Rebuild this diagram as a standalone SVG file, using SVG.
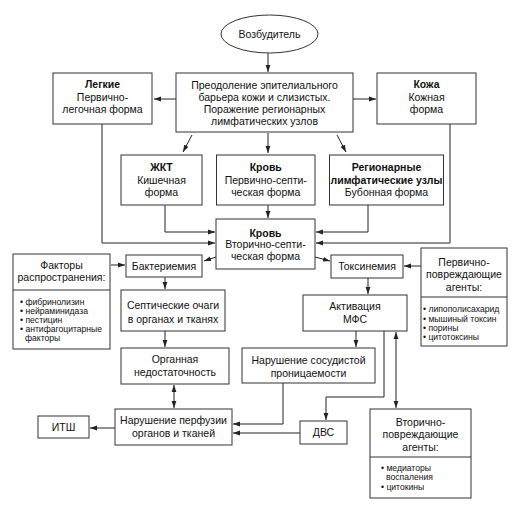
<svg xmlns="http://www.w3.org/2000/svg" width="531" height="506" viewBox="0 0 531 506">
<defs>
<marker id="ah" markerWidth="8" markerHeight="6" refX="7" refY="3" orient="auto" markerUnits="userSpaceOnUse">
<path d="M0,0.6 L7,3 L0,5.4 Z" fill="#222"/>
</marker>
<marker id="as" markerWidth="8" markerHeight="6" refX="0" refY="3" orient="auto" markerUnits="userSpaceOnUse">
<path d="M7,0.6 L0,3 L7,5.4 Z" fill="#222"/>
</marker>
</defs>
<style>
rect,ellipse{fill:#fff;stroke:#333;stroke-width:1}
.c path,.c line{fill:none;stroke:#222;stroke-width:1}
text{font-family:"Liberation Sans",Arial,sans-serif;font-size:10.5px;fill:#111;text-anchor:middle}
.b{font-weight:bold}
.s{font-size:8.6px;text-anchor:start}
</style>
<rect x="0" y="0" width="531" height="506" style="fill:#fff;stroke:none"/>
<g class="c">
<line x1="268" y1="53" x2="268" y2="72" marker-end="url(#ah)"/>
<line x1="176" y1="99" x2="154" y2="99" marker-end="url(#ah)"/>
<line x1="353" y1="99" x2="376" y2="99" marker-end="url(#ah)"/>
<line x1="192" y1="135" x2="183" y2="152" marker-end="url(#ah)"/>
<line x1="268" y1="133" x2="268" y2="153" marker-end="url(#ah)"/>
<line x1="337" y1="135" x2="346" y2="152" marker-end="url(#ah)"/>
<line x1="268" y1="205" x2="268" y2="218" marker-end="url(#ah)"/>
<path d="M165,205 V232 H215" marker-end="url(#ah)"/>
<path d="M368,205 V232 H316" marker-end="url(#ah)"/>
<path d="M102,124 V243 H215" marker-end="url(#ah)"/>
<path d="M450,124 V243 H316" marker-end="url(#ah)"/>
<line x1="216" y1="257" x2="204" y2="261" marker-end="url(#ah)"/>
<line x1="315" y1="257" x2="330" y2="261" marker-end="url(#ah)"/>
<line x1="111" y1="265" x2="125" y2="265" marker-end="url(#ah)"/>
<line x1="421" y1="266" x2="404" y2="266" marker-end="url(#ah)"/>
<line x1="165" y1="277" x2="165" y2="289" marker-end="url(#ah)"/>
<line x1="165" y1="331" x2="165" y2="347" marker-end="url(#ah)"/>
<line x1="174" y1="385" x2="174" y2="408" marker-start="url(#as)" marker-end="url(#ah)"/>
<line x1="368" y1="278" x2="368" y2="294" marker-end="url(#ah)"/>
<line x1="356" y1="331" x2="356" y2="347" marker-end="url(#ah)"/>
<path d="M384,331 V397 H326 V420" marker-end="url(#ah)"/>
<line x1="396" y1="332" x2="396" y2="408" marker-start="url(#as)" marker-end="url(#ah)"/>
<path d="M283,383 V424 H233" marker-end="url(#ah)"/>
<line x1="300" y1="433" x2="233" y2="433" marker-end="url(#ah)"/>
<line x1="115" y1="428" x2="90" y2="428" marker-end="url(#ah)"/>
</g>
<g id="vozbuditel">
<ellipse cx="269.5" cy="34" rx="48.5" ry="19"/>
<text x="269.5" y="38">Возбудитель</text>
</g>
<g id="preodolenie">
<rect x="176" y="73" width="177" height="59"/>
<text x="264.5" y="89">Преодоление эпителиального</text>
<text x="264.5" y="101">барьера кожи и слизистых.</text>
<text x="264.5" y="113">Поражение регионарных</text>
<text x="264.5" y="125">лимфатических узлов</text>
</g>
<g id="legkie">
<rect x="53" y="73" width="99" height="51"/>
<text x="102.5" y="88" class="b">Легкие</text>
<text x="102.5" y="101">Первично-</text>
<text x="102.5" y="113">легочная форма</text>
</g>
<g id="kozha">
<rect x="377" y="73" width="99" height="51"/>
<text x="426.5" y="88" class="b">Кожа</text>
<text x="426.5" y="101">Кожная</text>
<text x="426.5" y="113">форма</text>
</g>
<g id="zhkt">
<rect x="121" y="155" width="81" height="50"/>
<text x="161.5" y="171" class="b">ЖКТ</text>
<text x="161.5" y="184">Кишечная</text>
<text x="161.5" y="196">форма</text>
</g>
<g id="krov1">
<rect x="216.5" y="155" width="98.5" height="50"/>
<text x="265.75" y="171" class="b">Кровь</text>
<text x="265.75" y="184">Первично-септи-</text>
<text x="265.75" y="196">ческая форма</text>
</g>
<g id="regional">
<rect x="329.5" y="155" width="114" height="50"/>
<text x="386.5" y="171" class="b">Регионарные</text>
<text x="386.5" y="184" class="b">лимфатические узлы</text>
<text x="386.5" y="196">Бубонная форма</text>
</g>
<g id="krov2">
<rect x="216" y="219" width="99" height="50"/>
<text x="265.5" y="237" class="b">Кровь</text>
<text x="265.5" y="248">Вторично-септи-</text>
<text x="265.5" y="260">ческая форма</text>
</g>
<g id="faktory">
<rect x="13" y="254" width="97" height="95"/>
<line x1="13" y1="290" x2="110" y2="290" style="stroke:#333"/>
<text x="61.5" y="269">Факторы</text>
<text x="61.5" y="281">распространения:</text>
<text x="20" y="305" class="s">• фибринолизин</text>
<text x="20" y="314" class="s">• нейраминидаза</text>
<text x="20" y="323" class="s">• пестицин</text>
<text x="20" y="332" class="s">• антифагоцитарные</text>
<text x="25" y="341" class="s">факторы</text>
</g>
<g id="bakteriemia">
<rect x="126" y="255" width="76" height="22"/>
<text x="164" y="270">Бактериемия</text>
</g>
<g id="septic">
<rect x="121" y="290" width="104" height="41"/>
<text x="173" y="309">Септические очаги</text>
<text x="173" y="323">в органах и тканях</text>
</g>
<g id="organnaya">
<rect x="121" y="348" width="108" height="36"/>
<text x="175" y="363">Органная</text>
<text x="175" y="376">недостаточность</text>
</g>
<g id="perfuzii">
<rect x="115" y="409" width="117" height="36"/>
<text x="173.5" y="424">Нарушение перфузии</text>
<text x="173.5" y="437">органов и тканей</text>
</g>
<g id="itsh">
<rect x="38" y="416" width="51" height="22"/>
<text x="63.5" y="431">ИТШ</text>
</g>
<g id="toksinemia">
<rect x="331" y="255" width="72" height="23"/>
<text x="367" y="270">Токсинемия</text>
</g>
<g id="pervichno">
<rect x="421" y="248" width="86" height="98"/>
<line x1="421" y1="297" x2="507" y2="297" style="stroke:#333"/>
<text x="464" y="266">Первично-</text>
<text x="464" y="278">повреждающие</text>
<text x="464" y="291">агенты:</text>
<text x="423" y="312" class="s">• липополисахарид</text>
<text x="423" y="322" class="s">• мышиный токсин</text>
<text x="423" y="331" class="s">• порины</text>
<text x="423" y="340" class="s">• цитотоксины</text>
</g>
<g id="mfs">
<rect x="303" y="295" width="104" height="36"/>
<text x="355" y="310">Активация</text>
<text x="355" y="323">МФС</text>
</g>
<g id="sosud">
<rect x="242" y="348" width="133" height="35"/>
<text x="308.5" y="364">Нарушение сосудистой</text>
<text x="308.5" y="377">проницаемости</text>
</g>
<g id="dvs">
<rect x="300" y="421" width="47" height="23"/>
<text x="323.5" y="436">ДВС</text>
</g>
<g id="vtorichno">
<rect x="370" y="409" width="101" height="89"/>
<line x1="370" y1="457" x2="471" y2="457" style="stroke:#333"/>
<text x="420.5" y="426">Вторично-</text>
<text x="420.5" y="438">повреждающие</text>
<text x="420.5" y="451">агенты:</text>
<text x="381" y="471" class="s">• медиаторы</text>
<text x="386" y="480" class="s">воспаления</text>
<text x="381" y="490" class="s">• цитокины</text>
</g>
</svg>
